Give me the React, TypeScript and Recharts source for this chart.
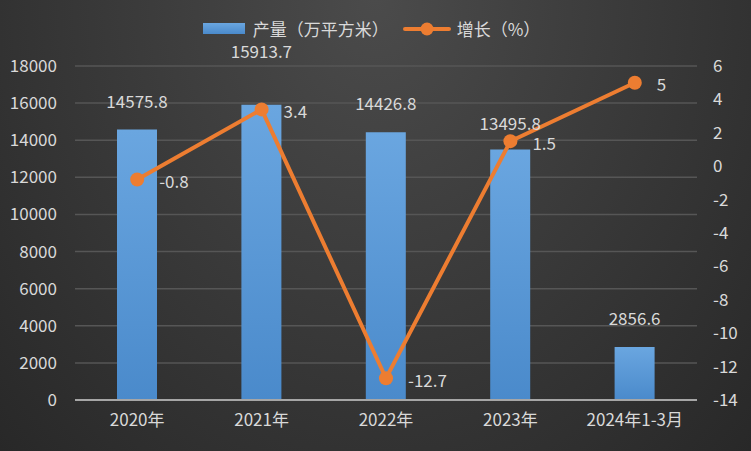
import {
  Bar,
  CartesianGrid,
  ComposedChart,
  LabelList,
  Line,
  XAxis,
  YAxis,
} from "recharts";

const categories = ["2020年", "2021年", "2022年", "2023年", "2024年1-3月"];
const output = [14575.8, 15913.7, 14426.8, 13495.8, 2856.6];
const growth = [-0.8, 3.4, -12.7, 1.5, 5];
const leftTicks = [0, 2000, 4000, 6000, 8000, 10000, 12000, 14000, 16000, 18000];
const rightTicks = [-14, -12, -10, -8, -6, -4, -2, 0, 2, 4, 6];

// vertical shift of each bar's value label relative to the bar top
const barLabelShift = [-29, -54, -30, -27, -29];

const data = categories.map((name, i) => ({
  name,
  output: output[i],
  growth: growth[i],
}));

const FONT = '"Noto Sans CJK SC", "Microsoft YaHei", sans-serif';
const TEXT = "#d9d9d9";
const ORANGE = "#ED7D31";

function BarValueLabel(props: any) {
  const { x, y, width, value, index } = props;
  return (
    <text
      x={x + width / 2}
      y={y + barLabelShift[index]}
      fill={TEXT}
      fontSize={17}
      fontFamily={FONT}
      textAnchor="middle"
      dominantBaseline="central"
    >
      {Number(value).toFixed(1)}
    </text>
  );
}

function LineValueLabel(props: any) {
  const { x, y, value } = props;
  return (
    <text
      x={x + 22}
      y={y + 1}
      fill={TEXT}
      fontSize={17}
      fontFamily={FONT}
      textAnchor="start"
      dominantBaseline="central"
    >
      {value}
    </text>
  );
}

function ChartLegend() {
  return (
    <div
      style={{
        position: "absolute",
        top: 16,
        left: 0,
        width: 751,
        display: "flex",
        justifyContent: "center",
        alignItems: "center",
        fontFamily: FONT,
        fontSize: 17,
        color: TEXT,
        paddingRight: 8,
        boxSizing: "border-box",
      }}
    >
      <span
        style={{
          display: "inline-block",
          width: 42,
          height: 11,
          background: "linear-gradient(#6aa6e0, #4a8acb)",
          marginRight: 8,
        }}
      />
      <span style={{ marginRight: 14 }}>产量（万平方米）</span>
      <svg width={48} height={16} style={{ marginRight: 6 }}>
        <line x1={2} y1={8} x2={46} y2={8} stroke={ORANGE} strokeWidth={4} strokeLinecap="round" />
        <circle cx={24} cy={8} r={6.5} fill={ORANGE} />
      </svg>
      <span>增长（%）</span>
    </div>
  );
}

export default function App() {
  return (
    <div
      style={{
        position: "absolute",
        top: 0,
        left: 0,
        width: 751,
        height: 451,
        background:
          "radial-gradient(ellipse at 50% 0%, #4b4b4b 0%, #3b3b3b 45%, #282828 100%)",
      }}
    >
      <ChartLegend />
      <ComposedChart
        width={751}
        height={451}
        data={data}
        margin={{ top: 66, right: 0, bottom: 21, left: 0 }}
      >
        <defs>
          <linearGradient id="barFill" x1="0" y1="0" x2="0" y2="1">
            <stop offset="0%" stopColor="#6aa6e0" />
            <stop offset="100%" stopColor="#4a8acb" />
          </linearGradient>
        </defs>
        <CartesianGrid yAxisId="left" vertical={false} stroke="#565656" strokeWidth={1.5} />
        <XAxis
          dataKey="name"
          height={30}
          tickLine={false}
          axisLine={{ stroke: "#a6a6a6", strokeWidth: 2 }}
          tick={{ fill: TEXT, fontSize: 17, fontFamily: FONT }}
          tickMargin={8}
          interval={0}
        />
        <YAxis
          yAxisId="left"
          width={75}
          domain={[0, 18000]}
          ticks={leftTicks}
          tickLine={false}
          axisLine={false}
          tick={{ fill: TEXT, fontSize: 17, fontFamily: FONT }}
          tickMargin={12}
        />
        <YAxis
          yAxisId="right"
          orientation="right"
          width={54}
          domain={[-14, 6]}
          ticks={rightTicks}
          tickLine={false}
          axisLine={false}
          tick={{ fill: TEXT, fontSize: 17, fontFamily: FONT, textAnchor: "start" }}
          tickMargin={10}
        />
        <Bar
          yAxisId="left"
          dataKey="output"
          fill="url(#barFill)"
          barSize={40}
          isAnimationActive={false}
        >
          <LabelList dataKey="output" content={BarValueLabel} />
        </Bar>
        <Line
          yAxisId="right"
          dataKey="growth"
          stroke={ORANGE}
          strokeWidth={4}
          dot={{ r: 7, fill: ORANGE, stroke: ORANGE, strokeWidth: 0 }}
          activeDot={false}
          isAnimationActive={false}
        >
          <LabelList dataKey="growth" content={LineValueLabel} />
        </Line>
      </ComposedChart>
    </div>
  );
}
